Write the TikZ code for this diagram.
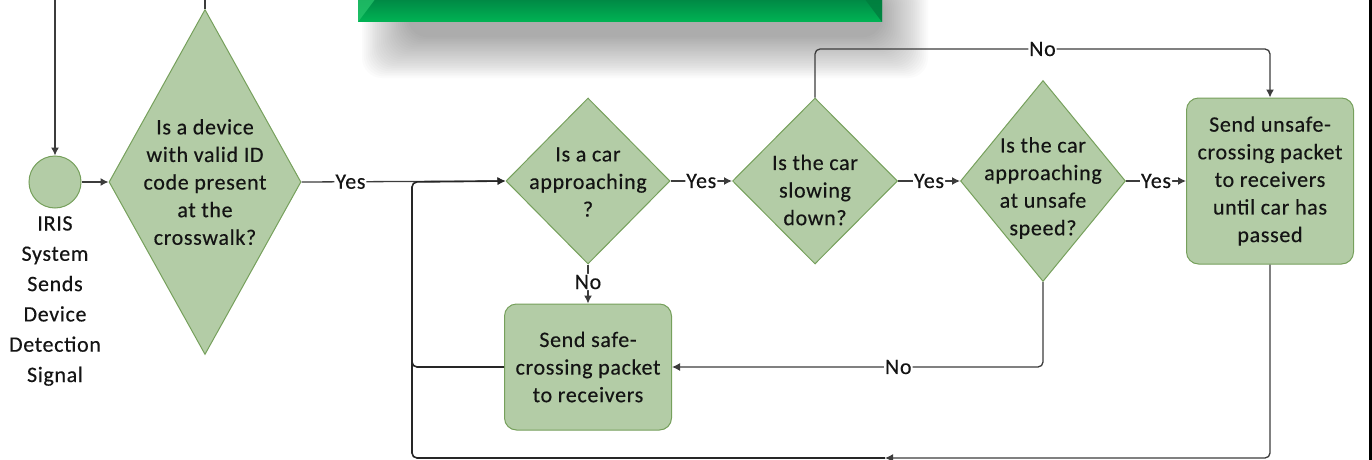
\documentclass[tikz,border=0pt]{standalone}
\usepackage{fontspec}
\setmainfont{Carlito}[LetterSpace=3,FakeBold=0.35]
\usetikzlibrary{shapes.geometric,arrows.meta}
\definecolor{gfill}{RGB}{179,204,166}
\definecolor{gborder}{RGB}{118,160,92}
\definecolor{linec}{RGB}{60,60,60}
\definecolor{txtc}{RGB}{20,20,20}
\definecolor{hdrtop}{RGB}{0,134,68}
\definecolor{hdrbot}{RGB}{0,180,84}
\definecolor{hdrbevl}{RGB}{40,200,110}
\definecolor{hdrbevd}{RGB}{0,125,62}
\newcommand\fsmain{\fontsize{22}{27.6}\selectfont}
\newcommand\fsside{\fontsize{22}{30.3}\selectfont}
\begin{document}
\begin{tikzpicture}[x=1pt,y=-1pt,
  dec/.style={diamond, draw=gborder, fill=gfill, line width=1pt, inner sep=0pt},
  proc/.style={rectangle, rounded corners=12pt, draw=gborder, fill=gfill, line width=1pt, inner sep=0pt},
  txt/.style={align=center, font=\fsmain, text=txtc, inner sep=0pt},
  conn/.style={draw=linec, line width=1.3pt, rounded corners=5pt},
  loopc/.style={draw=black!85, line width=1.6pt, rounded corners=5pt},
  arr/.style={-{Latex[length=8pt,width=8pt]}},
  lbl/.style={fill=white, inner sep=1pt, font=\fsmain, text=txtc}]
\useasboundingbox (0,0) rectangle (1372,460);
% header bar with blurred shadow
\foreach \i in {0,...,24}{
  \fill[black, opacity=0.016, rounded corners=20pt] (362+\i*1.9,-20+\i*0.5) rectangle (928-\i*1.9,78-\i*1.7);
}
\shade[top color=hdrtop, bottom color=hdrbot] (358,-2) rectangle (882,22);
\fill[hdrbevl, opacity=0.7] (358,-2) -- (376,-2) -- (358,22) -- cycle;
\fill[hdrbevd, opacity=0.8] (864,-2) -- (882,-2) -- (882,22) -- cycle;
\fill[black] (1369,0) rectangle (1372,460);
% nodes
\node[circle, draw=gborder, fill=gfill, line width=1pt, minimum size=52pt, inner sep=0pt] (c) at (55,182) {};
\node[txt, font=\fsside] (clab) at (55,301) {IRIS\\System\\Sends\\Device\\Detection\\Signal};
\node[dec, minimum width=192pt, minimum height=345pt] (d1) at (205,182) {};
\node[txt] (t1) at (205,182) {Is a device\\with valid ID\\code present\\at the\\crosswalk?};
\node[dec, minimum width=164pt, minimum height=166pt] (d2) at (588,181) {};
\node[txt] (t2) at (588,182) {Is a car\\approaching\\?};
\node[dec, minimum width=165pt, minimum height=166pt] (d3) at (815,181) {};
\node[txt] (t3) at (815,190) {Is the car\\slowing\\down?};
\node[dec, minimum width=165pt, minimum height=201pt] (d4) at (1043,181) {};
\node[txt] (t4) at (1043,188) {Is the car\\approaching\\at unsafe\\speed?};
\node[proc, minimum width=167pt, minimum height=126pt] (safe) at (588,367) {};
\node[txt] (t5) at (588,367) {Send safe-\\crossing packet\\to receivers};
\node[proc, minimum width=167pt, minimum height=166pt] (unsafe) at (1270,181) {};
\node[txt] (t6) at (1270,181) {Send unsafe-\\crossing packet\\to receivers\\until car has\\passed};
% coordinates
\coordinate (topL) at (55,0);
\coordinate (topM) at (205,0);
\coordinate (lpS) at (412,367);
\coordinate (lpT) at (412,182);
\coordinate (bm) at (885,458);
\coordinate (bl) at (412,458);
\coordinate (lpM) at (412,300);
\coordinate (n1) at (815,49);
\coordinate (n2) at (1270,49);
\coordinate (s1) at (1043,367);
% connectors
\draw[conn,arr] (topL) -- (c.north);
\draw[conn,arr] (c.east) -- (d1.west);
\draw[conn] (d1.north) -- (topM);
\draw[conn,arr] (d1.east) -- node[lbl,pos=0.24]{Yes} (d2.west);
\draw[loopc,arr] (safe.west) -- (lpS) -- (lpT) -- (d2.west);
\draw[conn,arr] (unsafe.south) |- (bm);
\draw[loopc] (bm) -- (bl) -- (lpM);
\draw[conn,arr] (d2.east) -- node[lbl]{Yes} (d3.west);
\draw[conn,arr] (d3.east) -- node[lbl]{Yes} (d4.west);
\draw[conn,arr] (d4.east) -- node[lbl]{Yes} (unsafe.west);
\draw[conn,arr] (d2.south) -- node[lbl,pos=0.45]{No} (safe.north);
\draw[conn,arr] (d3.north) -- (n1) -- node[lbl]{No} (n2) -- (unsafe.north);
\draw[conn,arr] (d4.south) -- (s1) -- node[lbl,pos=0.39]{No} (safe.east);
\end{tikzpicture}
\end{document}
